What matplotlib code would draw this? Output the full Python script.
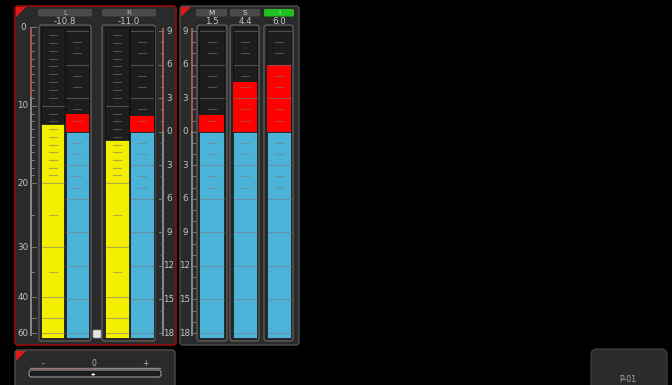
import numpy as np
import matplotlib
matplotlib.use("Agg")
import matplotlib.pyplot as plt
from matplotlib.patches import FancyBboxPatch, Polygon

# ---------------- data ----------------
lr_names = ["L", "R"]
lr_readouts = ["-10.8", "-11.0"]
lr_peak_db = [12.35, 14.4]        # yellow peak bars (left dB scale, downward)
lr_level_lu = [1.6, 1.4]          # blue/red bars (right scale)
msi_names = ["M", "S", "I"]
msi_readouts = ["1.5", "4.4", "6.0"]
msi_level_lu = [1.5, 4.4, 6.0]
db_labels = ["0", "10", "20", "30", "40", "60"]
db_values = [0, 10, 20, 30, 40, 60]
# meter law: dB marks -> position on the LU axis
db_law_db = [0, 10, 20, 30, 40, 50, 60]
db_law_lu = [9.36, 2.30, -4.59, -10.31, -14.78, -16.66, -18.0]
lu_ticks = [9, 6, 3, 0, -3, -6, -9, -12, -15, -18]
lu_labels = ["9", "6", "3", "0", "3", "6", "9", "12", "15", "18"]
slider_labels = ["-", "0", "+"]
preset_name = "P-01"

# ---------------- layout / style ----------------
W, H = 672, 385
PX0, PXU = 131.7, 11.185          # pixel row of 0 LU, pixels per LU
COL_TOP, COL_BOT = 9.36, -18.44
BLUE, YEL, RED = "#4cb3d8", "#f4ee00", "#ff0000"
PANEL = "#2a2a2a"
TXT = "#c4c4c4"
FS = 6.3

def db2lu(d):
    return np.interp(d, db_law_db, db_law_lu)

fig = plt.figure(figsize=(W / 100, H / 100), dpi=100)
fig.patch.set_facecolor("black")
bg = fig.add_axes([0, 0, 1, 1])
bg.set_xlim(0, W); bg.set_ylim(H, 0); bg.axis("off")
ax = fig.add_axes([0, 0, 1, 1], zorder=2)
ax.patch.set_alpha(0)
ax.set_xlim(0, W); ax.set_ylim((PX0 - H) / PXU, PX0 / PXU); ax.axis("off")

def rbox(a, x0, y0, x1, y1, fc, ec, lw=1.0, r=3, z=1):
    a.add_patch(FancyBboxPatch((x0, y0), x1 - x0, y1 - y0,
                               boxstyle=f"round,pad=0,rounding_size={r}",
                               fc=fc, ec=ec, lw=lw, zorder=z))

def tri(x, y, s=10):
    bg.add_patch(Polygon([(x, y), (x + s, y), (x, y + s)], closed=True,
                         fc="#e01818", ec="none", zorder=5))

# panels
rbox(bg, 15, 6, 176, 345, PANEL, "#8c0c0c", lw=1.3)
rbox(bg, 180, 6, 299, 345, PANEL, "#4e4e4e", lw=1.0)
rbox(bg, 15, 350, 175, 395, PANEL, "#4e4e4e", lw=1.0)
rbox(bg, 591, 349, 667, 395, "#2c2c2c", "#3a3a3a", lw=1.0, r=6)
tri(16, 7); tri(181, 7); tri(16, 351)

# meter frames
frames = [(39, 91), (102, 155), (197, 227), (230, 259), (264, 293)]
for x0, x1 in frames:
    rbox(bg, x0, 25, x1, 341, "#262626", "#626262", lw=0.9, r=2.5, z=2)

# headers
head_boxes = [(38, 92), (102, 156)]
for (x0, x1), n, v in zip(head_boxes, lr_names, lr_readouts):
    rbox(bg, x0, 9, x1, 16.5, "#4b4b4b", "none", r=1.5, z=3)
    bg.text((x0 + x1) / 2, 12.8, n, color="#b8b8b8", fontsize=5.2, ha="center", va="center", zorder=4)
    bg.text((x0 + x1) / 2, 21.3, v, color=TXT, fontsize=FS, ha="center", va="center", zorder=4)
msi_boxes = [(196, 227), (230, 260), (264, 294)]
for i, ((x0, x1), n, v) in enumerate(zip(msi_boxes, msi_names, msi_readouts)):
    fc = "#20c020" if n == "I" else "#4b4b4b"
    rbox(bg, x0, 9, x1, 16.5, fc, "none", r=1.5, z=3)
    bg.text((x0 + x1) / 2, 12.8, n, color="#d8d8d8" if n != "I" else "#a8f0a8",
            fontsize=5.2, ha="center", va="center", zorder=4)
    bg.text((x0 + x1) / 2, 21.3, v, color=TXT, fontsize=FS, ha="center", va="center", zorder=4)

# ---------------- meter columns ----------------
yel_x, yel_w = [52.7, 117.2], [23, 23.5]
lrb_x, lrb_w = [77.2, 142.0], [23, 23.5]
msi_x, msi_w = [211.5, 245.0, 279.0], [25, 24, 24]
all_cols = list(zip(yel_x + lrb_x + msi_x, yel_w + lrb_w + msi_w))
for xc, w in all_cols:
    ax.bar(xc, COL_TOP - COL_BOT, bottom=COL_BOT, width=w, color="#1d1d1d",
           edgecolor="#111111", lw=0.8, zorder=1)

# yellow peak bars
peak_lu = db2lu(np.array(lr_peak_db))
ax.bar(yel_x, peak_lu - COL_BOT, bottom=COL_BOT, width=yel_w, color=YEL,
       edgecolor="#222", lw=0.6, zorder=2)

# blue (below 0) and red (above 0) level bars
bx = lrb_x + msi_x
bw = lrb_w + msi_w
blev = lr_level_lu + msi_level_lu
ax.bar(bx, 0 - COL_BOT, bottom=COL_BOT, width=bw, color=BLUE, edgecolor="#222", lw=0.6, zorder=2)
ax.bar(bx, blev, bottom=0, width=bw, color=RED, edgecolor="none", zorder=2)

# grid marks inside blue columns (LU)
for xc, w in zip(bx, bw):
    for v in range(9, -19, -1):
        if v == 0:
            continue
        if v % 3 == 0:
            ax.plot([xc - w / 2 + 0.5, xc + w / 2 - 0.5], [v, v], color="#7a7a7a", alpha=0.55, lw=0.8, zorder=3)
        elif v > -6:
            ax.plot([xc - 4, xc + 4], [v, v], color="#7a7a7a", alpha=0.55, lw=0.8, zorder=3)
# grid marks inside yellow columns (dB)
for xc, w in zip(yel_x, yel_w):
    for d in list(range(0, 21)) + [25, 30, 35, 40, 50, 60]:
        v = db2lu(d)
        if d % 10 == 0 and d > 0:
            ax.plot([xc - w / 2 + 0.5, xc + w / 2 - 0.5], [v, v], color="#7a7a7a", alpha=0.55, lw=0.8, zorder=3)
        elif d > 0:
            ax.plot([xc - 4, xc + 4], [v, v], color="#7a7a7a", alpha=0.55, lw=0.8, zorder=3)

# ---------------- scales ----------------
# left dB scale
ax.plot([31, 31], [db2lu(0) - 0.1, db2lu(9)], color="#a85858", lw=1.4, zorder=3)
ax.plot([31, 31], [db2lu(9), -18.2], color="#8a8a8a", lw=1.4, zorder=3)
for d in list(range(0, 21)) + [25, 30, 35, 40, 50, 60]:
    ln = 5 if d % 10 == 0 else 3
    ax.plot([31, 31 + ln], [db2lu(d)] * 2, color="#7a7a7a", lw=0.7, zorder=3)
for lab, d in zip(db_labels, db_values):
    ax.text(23, db2lu(d), lab, color=TXT, fontsize=FS, ha="center", va="center", zorder=4)

# right LU scales (L/R panel and M/S/I panel)
for xl, xt, sgn in [(163, 169, -1), (192, 185, 1)]:
    ax.plot([xl, xl], [9.2, 0], color="#a85858", lw=1.4, zorder=3)
    ax.plot([xl, xl], [0, -18.2], color="#8a8a8a", lw=1.4, zorder=3)
    for v in range(9, -19, -1):
        ln = 4 if v % 3 == 0 else 2.5
        ax.plot([xl, xl + sgn * ln], [v, v], color="#7a7a7a", lw=0.7, zorder=3)
    for lab, v in zip(lu_labels, lu_ticks):
        ax.text(xt, v, lab, color=TXT, fontsize=FS, ha="center", va="center", zorder=4)

# small white button between L and R
rbox(bg, 93, 330, 101, 338, "#e6e6e6", "#999999", lw=0.5, r=1.2, z=3)

# ---------------- bottom panels ----------------
for lab, x in zip(slider_labels, [43, 94, 145]):
    bg.text(x, 363.5, lab, color="#b4b4b4", fontsize=5.5, ha="center", va="center", zorder=4)
bg.plot([30, 94], [368, 368], color="#a07070", lw=1.0, zorder=3)
bg.plot([94, 160], [368, 368], color="#8a8a8a", lw=1.0, zorder=3)
rbox(bg, 29, 370, 161, 377, "#1c1c1c", "#9a9a9a", lw=0.8, r=2.5, z=3)
bg.text(94, 373.5, "◂▸", color="white", fontsize=4, ha="center", va="center", zorder=4)
bg.text(628, 379, preset_name, color="#a8a8a8", fontsize=5.6, ha="center", va="center", zorder=4)

fig.savefig("out.png", dpi=100, facecolor="black")
